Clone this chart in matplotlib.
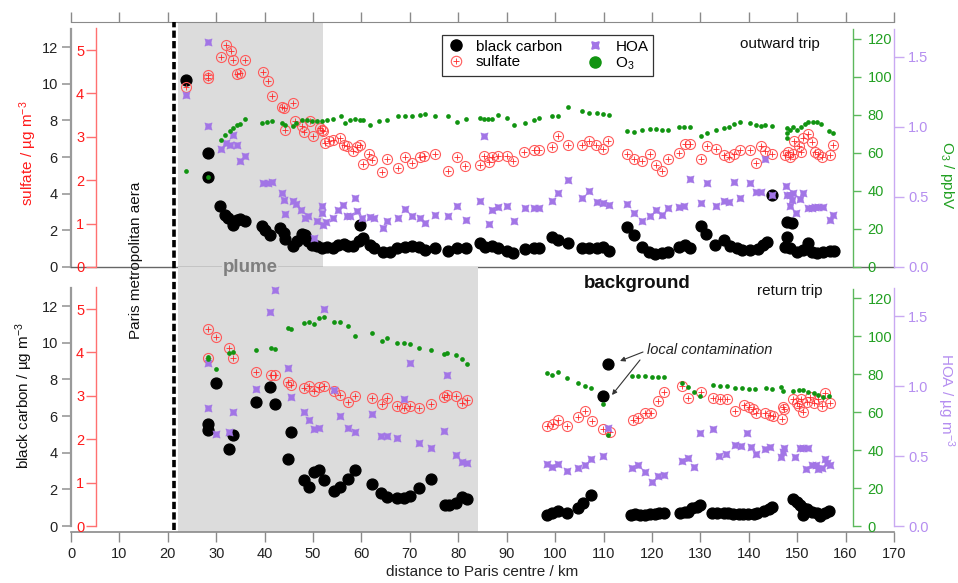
import matplotlib
matplotlib.use('Agg')
import matplotlib.pyplot as plt
from matplotlib.lines import Line2D
from matplotlib.legend_handler import HandlerTuple

plt.rcParams['font.family'] = ['Liberation Sans', 'DejaVu Sans']
plt.rcParams['mathtext.fontset'] = 'custom'
plt.rcParams['mathtext.rm'] = 'Liberation Sans'
plt.rcParams['mathtext.it'] = 'Liberation Sans:italic'
plt.rcParams['mathtext.default'] = 'regular'

# ---------------- data: outward trip (top) ----------------
out_bc_km = [23.8, 28.2, 28.2, 30.8, 31.8, 32.5, 33.5, 34.2, 35.0, 36.0, 39.4, 40.1, 41.1, 43.2, 43.9, 44.2,
             45.9, 46.6, 47.7, 48.3, 49.0, 49.7, 50.8, 51.8, 52.8, 54.2, 55.2, 56.3, 57.3, 58.3, 59.4, 60.3,
             59.7, 61.8, 62.5, 64.5, 65.9, 67.3, 69.0, 70.4, 71.8, 73.1, 75.1, 77.8, 79.7, 81.5, 84.5, 85.5,
             86.9, 88.3, 90.0, 91.4, 93.7, 95.7, 96.7, 99.3, 100.6, 102.7, 105.5, 106.9, 108.6, 109.8, 111.2,
             114.9, 116.2, 117.9, 119.3, 120.7, 122.0, 123.4, 125.5, 126.9, 127.9, 130.1, 131.2, 133.1, 134.8,
             136.2, 137.5, 138.6, 140.3, 142.0, 143.0, 143.7, 144.8, 147.9, 148.9, 147.9, 147.5, 148.6, 149.9,
             151.3, 152.3, 153.0, 154.1, 155.4, 156.8, 157.6]
out_bc = [10.2, 6.2, 4.9, 3.35, 2.85, 2.7, 2.27, 2.58, 2.63, 2.49, 2.22, 2.04, 1.76, 2.13, 1.85, 1.54,
          1.13, 1.40, 1.80, 1.76, 1.40, 1.22, 1.13, 1.04, 1.07, 1.04, 1.22, 1.25, 1.13, 1.13, 1.40, 1.58,
          2.31, 1.22, 1.04, 0.82, 0.82, 1.04, 1.11, 1.16, 1.11, 0.93, 1.02, 0.89, 1.02, 1.02, 1.29, 1.11,
          1.15, 1.02, 0.89, 0.78, 0.97, 1.02, 1.02, 1.62, 1.47, 1.33, 1.02, 1.02, 1.02, 1.11, 0.89,
          2.20, 1.75, 1.11, 0.83, 0.71, 0.78, 0.83, 1.07, 1.20, 1.02, 2.24, 1.80, 1.20, 1.47,
          1.15, 1.02, 0.93, 0.93, 0.97, 1.20, 1.38, 3.93, 2.47, 2.38, 1.65, 1.11, 1.02, 0.83,
          0.93, 1.29, 0.83, 0.75, 0.83, 0.89, 0.89]

out_so4_km = [23.8, 28.2, 28.2, 30.9, 32.0, 33.0, 33.4, 34.2, 35.0, 35.9, 39.6, 40.6, 41.5, 43.5, 44.0, 45.9,
              44.2, 46.3, 47.7, 48.1, 49.4, 49.9, 51.4, 51.8, 52.1, 52.5, 53.2, 54.2, 55.6, 56.3, 57.0, 58.2,
              59.0, 59.7, 61.6, 62.1, 60.3, 64.2, 65.2, 67.6, 69.0, 70.4, 72.1, 73.0, 75.1, 77.8, 79.7, 81.4,
              84.5, 85.4, 86.4, 87.0, 88.3, 90.0, 91.4, 93.5, 95.7, 96.7, 99.3, 100.5, 102.7, 105.5, 106.9,
              108.4, 109.8, 111.0, 114.9, 116.2, 117.9, 119.5, 120.9, 122.0, 123.4, 125.5, 126.9, 127.9, 130.1,
              131.3, 133.3, 134.8, 136.0, 137.0, 138.1, 140.3, 141.5, 142.5, 143.4, 144.8, 147.5, 148.2, 148.6,
              149.2, 149.4, 150.3, 150.8, 151.3, 152.3, 153.0, 153.7, 154.4, 155.1, 156.7, 157.4]
out_so4 = [4.14, 4.43, 4.35, 4.85, 5.11, 4.97, 4.78, 4.45, 4.47, 4.76, 4.49, 4.29, 3.93, 3.68, 3.66, 3.78,
           3.15, 3.36, 3.26, 3.11, 3.36, 3.01, 3.20, 3.16, 3.14, 2.86, 2.90, 2.93, 2.97, 2.82, 2.78, 2.68,
           2.76, 2.80, 2.60, 2.47, 2.37, 2.20, 2.50, 2.28, 2.54, 2.40, 2.54, 2.56, 2.60, 2.22, 2.53, 2.33,
           2.35, 2.56, 2.43, 2.53, 2.56, 2.56, 2.45, 2.66, 2.70, 2.70, 2.76, 3.02, 2.81, 2.81, 2.91,
           2.81, 2.73, 2.91, 2.60, 2.50, 2.45, 2.60, 2.35, 2.22, 2.50, 2.62, 2.83, 2.83, 2.48,
           2.79, 2.73, 2.58, 2.53, 2.60, 2.70, 2.70, 2.40, 2.79, 2.68, 2.60, 2.58, 2.66, 2.53,
           2.60, 2.91, 2.79, 2.66, 2.97, 3.06, 2.89, 2.66, 2.60, 2.54, 2.58, 2.81]

out_o3_km = [23.8, 28.2, 30.9, 31.8, 32.9, 33.5, 34.2, 34.9, 36.0, 39.4, 40.4, 41.5, 43.5, 44.2, 45.8, 46.5,
             47.7, 48.7, 49.7, 50.8, 51.8, 52.8, 54.1, 55.7, 56.6, 57.6, 58.7, 59.7, 60.4, 61.8, 63.7, 65.2,
             67.6, 69.0, 70.4, 72.1, 73.1, 75.1, 77.8, 79.7, 81.5, 84.5, 85.4, 86.2, 87.0, 88.2, 90.0, 91.6,
             93.7, 95.7, 96.7, 99.3, 100.6, 102.7, 105.5, 107.0, 108.6, 109.8, 111.2, 114.9, 116.2, 117.9,
             119.5, 120.9, 122.0, 123.4, 125.5, 126.7, 127.9, 130.1, 131.3, 133.3, 134.8, 136.0, 137.0, 138.1,
             140.3, 141.5, 142.5, 143.4, 144.8, 147.9, 147.9, 148.0, 148.6, 149.2, 149.9, 150.8, 151.7, 152.3,
             153.2, 154.1, 154.9, 156.5, 157.4]
out_o3 = [50.7, 47.4, 67.0, 69.6, 71.4, 73.2, 74.6, 75.3, 78.1, 75.8, 76.2, 76.7, 75.8, 74.6, 74.0, 75.8,
          77.5, 77.5, 77.0, 77.0, 77.0, 77.5, 78.1, 79.3, 75.8, 77.5, 78.1, 77.5, 77.5, 74.9, 76.7, 77.5,
          79.6, 79.5, 79.5, 80.0, 80.4, 79.5, 79.6, 76.5, 77.7, 78.2, 77.9, 77.9, 77.9, 80.0, 78.2, 74.7,
          76.0, 77.4, 78.6, 79.6, 79.6, 84.0, 82.3, 81.2, 80.9, 80.5, 80.0, 71.8, 71.2, 72.1,
          72.6, 72.5, 72.1, 72.1, 73.5, 73.8, 73.8, 68.9, 70.7, 72.1, 73.0, 73.5, 75.3, 76.1,
          75.6, 74.7, 74.2, 74.7, 74.4, 73.0, 70.4, 67.7, 72.1, 73.5, 72.1, 73.8, 75.1, 76.5,
          76.5, 76.5, 75.1, 71.8, 70.7]

out_hoa_km = [23.8, 28.2, 28.2, 30.9, 32.0, 32.9, 33.5, 34.2, 34.9, 36.0, 39.6, 40.6, 41.5, 43.5, 43.9, 44.2,
              45.9, 46.5, 47.5, 48.3, 49.0, 50.8, 51.8, 51.8, 52.1, 52.7, 50.1, 54.1, 55.2, 56.1, 57.0, 57.6,
              58.7, 59.0, 60.1, 61.8, 62.6, 64.4, 65.2, 67.6, 69.0, 70.4, 72.1, 73.1, 75.1, 77.8, 79.8, 81.5,
              84.5, 85.4, 86.4, 87.0, 88.2, 90.0, 91.5, 93.7, 95.7, 96.7, 99.3, 100.5, 102.7, 105.5, 107.0,
              108.6, 109.8, 111.2, 114.9, 116.2, 117.9, 119.5, 120.9, 122.0, 123.4, 125.5, 126.7, 127.9, 130.1,
              131.3, 133.3, 134.8, 136.0, 137.0, 138.1, 140.3, 141.5, 142.5, 143.4, 144.8, 147.7, 147.9, 148.6,
              149.2, 148.9, 148.6, 149.8, 150.6, 151.3, 152.3, 153.0, 153.7, 154.4, 155.3, 156.7, 157.4]
out_hoa = [1.23, 1.61, 1.01, 0.845, 0.886, 0.869, 0.94, 0.869, 0.755, 0.79, 0.60, 0.60, 0.607, 0.529, 0.481, 0.379,
           0.469, 0.45, 0.41, 0.35, 0.362, 0.331, 0.434, 0.386, 0.302, 0.321, 0.207, 0.35, 0.41, 0.445, 0.362, 0.362,
           0.493, 0.398, 0.35, 0.355, 0.35, 0.279, 0.326, 0.35, 0.412, 0.364, 0.352, 0.312, 0.371, 0.364, 0.436, 0.336,
           0.474, 0.936, 0.307, 0.407, 0.426, 0.436, 0.331, 0.419, 0.419, 0.419, 0.474, 0.531, 0.621, 0.491, 0.543,
           0.467, 0.455, 0.443, 0.45, 0.383, 0.331, 0.364, 0.407, 0.371, 0.419, 0.426, 0.436, 0.626, 0.459,
           0.602, 0.436, 0.474, 0.467, 0.609, 0.491, 0.602, 0.538, 0.538, 0.769, 0.514, 0.579, 0.514, 0.514,
           0.526, 0.479, 0.436, 0.383, 0.484, 0.531, 0.419, 0.419, 0.431, 0.431, 0.431, 0.336, 0.371]

# ---------------- data: return trip (bottom) ----------------
ret_bc_km = [28.2, 28.2, 30.0, 32.7, 33.5, 38.2, 41.1, 42.2, 45.5, 44.8, 48.1, 49.2, 50.1, 51.3, 52.3, 54.4,
             55.6, 57.2, 58.7, 62.2, 64.0, 65.2, 67.3, 68.7, 70.0, 71.9, 74.3, 77.3, 78.0, 79.5, 80.7, 81.9,
             98.3, 99.3, 100.6, 102.4, 104.7, 105.8, 107.4, 109.8, 111.0,
             115.6, 116.5, 117.5, 118.6, 119.6, 120.6, 121.5, 122.4, 125.8, 126.9, 127.5, 128.3, 129.3, 130.0,
             132.4, 133.4, 134.8, 135.8, 136.8, 137.9, 138.9, 139.9, 141.0, 141.7, 143.2, 144.1, 144.8,
             149.2, 149.9, 150.6, 151.3, 151.2, 152.0, 153.0, 154.0, 154.8, 155.8, 156.5]
ret_bc = [5.56, 5.24, 7.82, 4.18, 4.96, 6.78, 7.60, 6.66, 5.15, 3.64, 2.51, 2.11, 2.96, 3.06, 2.51, 1.93,
          2.14, 2.55, 3.06, 2.29, 1.82, 1.57, 1.51, 1.51, 1.64, 2.06, 2.55, 1.15, 1.15, 1.24, 1.57, 1.46,
          0.60, 0.69, 0.83, 0.69, 0.96, 1.24, 1.69, 7.11, 8.82,
          0.62, 0.65, 0.62, 0.62, 0.65, 0.65, 0.69, 0.72, 0.69, 0.78, 0.78, 0.96, 1.05, 1.15,
          0.73, 0.73, 0.69, 0.69, 0.65, 0.65, 0.65, 0.65, 0.65, 0.69, 0.83, 0.91, 1.02,
          1.45, 1.33, 1.15, 0.96, 0.60, 0.91, 0.78, 0.69, 0.55, 0.69, 0.83]

ret_so4_km = [28.2, 28.2, 30.0, 32.7, 33.5, 38.2, 41.3, 42.2, 44.8, 45.5, 48.1, 49.2, 50.1, 51.3, 52.3, 54.4,
              55.6, 57.2, 58.7, 62.2, 64.2, 65.2, 67.3, 68.7, 70.0, 71.9, 74.3, 77.1, 77.6, 79.5, 80.7, 81.8,
              98.3, 99.5, 100.6, 102.4, 104.8, 106.1, 107.6, 109.8, 111.4, 116.0, 117.2, 118.6, 119.8, 121.3,
              122.4, 126.2, 127.4, 130.1, 132.6, 134.0, 135.5, 137.2, 139.1, 140.0, 140.9, 141.5, 143.4, 144.3,
              145.0, 146.8, 147.0, 147.3, 149.2, 149.9, 150.3, 150.8, 151.3, 152.0, 152.7, 153.4, 154.2, 155.1,
              155.8, 156.7]
ret_so4 = [4.55, 3.86, 4.35, 4.09, 3.86, 3.54, 3.48, 3.49, 3.31, 3.25, 3.19, 3.23, 3.11, 3.20, 3.23, 3.11,
           3.02, 2.86, 3.00, 2.94, 2.81, 2.94, 2.76, 2.73, 2.76, 2.73, 2.81, 2.98, 3.02, 3.00, 2.83, 2.90,
           2.30, 2.35, 2.44, 2.30, 2.52, 2.65, 2.43, 2.23, 2.17, 2.44, 2.48, 2.60, 2.61, 2.89,
           3.09, 3.23, 2.96, 3.09, 2.96, 2.92, 2.92, 2.66, 2.79, 2.75, 2.69, 2.61, 2.60, 2.56,
           2.53, 2.46, 2.75, 2.69, 2.92, 2.83, 2.76, 2.92, 2.63, 2.86, 2.98, 2.84, 2.92, 2.76,
           3.07, 2.83]

ret_o3_km = [28.2, 28.2, 30.0, 32.7, 33.5, 38.2, 41.3, 42.2, 44.8, 45.5, 48.1, 49.2, 50.1, 51.3, 52.3, 54.4,
             55.6, 57.2, 58.7, 62.2, 64.2, 65.2, 67.3, 68.7, 70.0, 71.9, 74.3, 77.1, 77.6, 79.5, 80.7, 81.9,
             98.3, 99.3, 100.5, 102.4, 104.8, 106.1, 107.4, 109.8, 111.0, 115.8, 117.2, 118.6, 120.0, 121.3,
             122.4, 126.2, 127.5, 128.7, 130.0, 132.6, 134.0, 135.5, 137.2, 138.6, 140.0, 141.3, 143.6, 144.8,
             146.6, 147.0, 149.2, 150.3, 151.3, 152.3, 153.4, 154.4, 155.4, 156.5]
ret_o3 = [87.7, 88.8, 82.5, 91.2, 91.8, 92.6, 93.5, 93.0, 104.0, 103.5, 107.0, 107.5, 106.3, 109.3, 109.8, 107.5,
          107.5, 105.3, 100.0, 101.4, 97.5, 98.8, 96.5, 96.1, 95.8, 93.5, 92.6, 90.5, 90.9, 90.0, 87.7, 85.1,
          80.7, 79.5, 81.2, 77.7, 75.1, 73.7, 72.5, 64.2, 47.9, 78.9, 78.9, 78.9, 78.6, 78.3,
          78.6, 75.1, 73.3, 70.7, 68.4, 74.2, 73.7, 73.7, 72.5, 72.5, 72.3, 72.3, 72.5, 72.1,
          73.0, 71.2, 71.2, 71.6, 71.6, 70.7, 70.2, 68.9, 67.7, 68.4]

ret_hoa_km = [28.2, 28.2, 30.0, 32.7, 33.5, 38.2, 41.1, 42.2, 44.8, 45.5, 48.1, 49.2, 50.1, 51.3, 52.3, 54.4,
              55.6, 57.2, 58.7, 62.2, 64.0, 65.2, 67.3, 68.7, 70.0, 71.9, 74.3, 77.1, 77.6, 79.5, 80.7, 81.9,
              98.3, 99.3, 100.5, 102.4, 104.8, 106.1, 107.4, 109.8, 111.0, 115.8, 117.2, 118.6, 120.0, 121.3,
              122.4, 126.2, 127.4, 128.7, 130.0, 132.6, 133.9, 135.2, 137.2, 138.4, 139.6, 140.4, 141.5, 143.4,
              144.4, 146.6, 147.0, 147.3, 149.6, 150.6, 151.3, 152.3, 151.9, 153.0, 153.9, 154.4, 155.1, 155.8,
              156.1, 156.7]
ret_hoa = [1.167, 0.845, 0.657, 0.674, 0.812, 0.976, 1.526, 1.686, 1.126, 0.924, 0.817, 0.757, 0.690, 0.698, 1.548, 0.971,
           0.786, 0.698, 0.674, 0.798, 0.643, 0.643, 0.626, 0.905, 1.167, 0.595, 0.555, 0.681, 1.079, 0.507, 0.459, 0.448,
           0.443, 0.424, 0.443, 0.395, 0.412, 0.436, 0.476, 0.500, 0.698, 0.412, 0.436, 0.388, 0.317, 0.357,
           0.364, 0.467, 0.483, 0.419, 0.662, 0.690, 0.500, 0.512, 0.579, 0.574, 0.667, 0.567, 0.514, 0.548,
           0.567, 0.495, 0.531, 0.555, 0.491, 0.555, 0.555, 0.555, 0.405, 0.436, 0.436, 0.405, 0.412, 0.476,
           0.448, 0.436]

x_ticks = list(range(0, 171, 10))
bc_ticks = [0, 2, 4, 6, 8, 10, 12]
so4_ticks = [0, 1, 2, 3, 4, 5]
o3_ticks = [0, 20, 40, 60, 80, 100, 120]
hoa_ticks = [0.0, 0.5, 1.0, 1.5]
hoa_labels = ['0.0', '0.5', '1.0', '1.5']

# ---------------- styles ----------------
W, H = 958, 583
C_SO4_LAB = '#ff1a1a'
C_SO4_SP = '#ff7070'
C_SO4_M = '#ff5a5a'
C_O3_LAB = '#22a022'
C_O3_SP = '#5cb85c'
C_O3_M = '#119411'
C_HOA_LAB = '#b58ef0'
C_HOA_SP = '#c9a9f2'
C_HOA_M = '#a275e6'
C_SHADE = '#dcdcdc'
C_BC_SP = '#9a9a9a'
HOA_MARK = (4, 1, 45)

fig = plt.figure(figsize=(W / 100, H / 100), dpi=100)

PX_BC, PX_SO4, PX_O3, PX_HOA = 18.33, 43.4, 1.9, 140.0
L_PX, R_PX = 71, 894


def lims(zero_px, bot_px, top_px, scale):
    return (-(bot_px - zero_px) / scale, (zero_px - top_px) / scale)


def make_panel(bot_px, top_px, zero_px, shade_end, top_panel):
    ax = fig.add_axes([L_PX / W, 1 - bot_px / H, (R_PX - L_PX) / W, (bot_px - top_px) / H])
    ax.set_xlim(0, 170)
    ax.set_ylim(*lims(zero_px, bot_px, top_px, PX_BC))
    ax.patch.set_alpha(0)
    ax.axvspan(22, shade_end, color=C_SHADE, zorder=0, lw=0)
    ax.spines['right'].set_visible(False)
    ax.spines['left'].set_color(C_BC_SP)
    ax.spines['left'].set_linewidth(1.6)
    ax.spines['left'].set_bounds(0, 13)
    ax.set_yticks(bc_ticks)
    ax.tick_params(axis='y', colors=C_BC_SP, labelcolor='#222222', length=6.5, width=1.2, pad=3, labelsize=10.5)
    ax.set_xticks(x_ticks)
    if top_panel:
        ax.spines['top'].set_color('#8a8a8a')
        ax.spines['bottom'].set_color('#666666')
        ax.spines['bottom'].set_linewidth(1.0)
        ax.xaxis.set_ticks_position('top')
        ax.tick_params(axis='x', direction='out', length=7, width=1, colors='#8a8a8a',
                       labeltop=False, labelbottom=False)
    else:
        ax.spines['top'].set_visible(False)
        ax.spines['bottom'].set_color('#8a8a8a')
        ax.spines['bottom'].set_linewidth(1.2)
        ax.tick_params(axis='x', direction='out', length=7, width=1, colors='#8a8a8a',
                       labelcolor='#222222', labelsize=10.5, pad=4)

    def twin(side, pos, spcol, labcol, bounds, ticks, scale, length, pad, labels=None):
        t = ax.twinx()
        t.set_ylim(*lims(zero_px, bot_px, top_px, scale))
        for s in t.spines.values():
            s.set_visible(False)
        sp = t.spines[side]
        sp.set_visible(True)
        sp.set_position(('axes', pos))
        sp.set_color(spcol)
        sp.set_linewidth(1.0)
        sp.set_bounds(*bounds)
        t.yaxis.set_ticks_position(side)
        t.set_yticks(ticks)
        if labels is not None:
            t.set_yticklabels(labels)
        t.tick_params(axis='y', colors=spcol, labelcolor=labcol, length=length, width=1,
                      pad=pad, labelsize=10.5)
        return t

    t_so4 = twin('left', (96 - L_PX) / (R_PX - L_PX), C_SO4_SP, C_SO4_LAB, (0, 5.5), so4_ticks,
                 PX_SO4, 7, 1.5)
    t_hoa = twin('right', 1.0, C_HOA_SP, C_HOA_LAB, (0, 1.7), hoa_ticks, PX_HOA, 7, 3, hoa_labels)
    t_o3 = twin('right', (853 - L_PX) / (R_PX - L_PX), C_O3_SP, C_O3_LAB, (0, 125), o3_ticks,
                PX_O3, 5.5, 5)
    return ax, t_so4, t_hoa, t_o3


def draw(ax, t_so4, t_hoa, t_o3, bkm, bc, skm, so4, okm, o3, hkm, hoa):
    ax.plot(bkm, bc, 'o', color='black', ms=7.8, mec='black', zorder=3)
    t_so4.plot(skm, so4, 'o', mfc='none', mec=C_SO4_M, ms=7.2, mew=0.8)
    t_so4.plot(skm, so4, '+', color='#ff2a2a', ms=4.2, mew=0.6)
    t_hoa.plot(hkm, hoa, ls='none', marker=HOA_MARK, color=C_HOA_M, ms=7.5, mew=0.3)
    t_o3.plot(okm, o3, 'o', color=C_O3_M, ms=3.4, mew=0)


# top panel (outward)
axt, ts, th, to = make_panel(267, 22, 267, 52, True)
draw(axt, ts, th, to, out_bc_km, out_bc, out_so4_km, out_so4, out_o3_km, out_o3, out_hoa_km, out_hoa)

# bottom panel (return)
axb, bs, bh, bo = make_panel(532, 267, 526, 84, False)
draw(axb, bs, bh, bo, ret_bc_km, ret_bc, ret_so4_km, ret_so4, ret_o3_km, ret_o3, ret_hoa_km, ret_hoa)
axb.set_xlabel('distance to Paris centre / km', fontsize=11, labelpad=3, color='#222222')

# dashed line at Paris metropolitan border
xline = (L_PX + 21.2 * (R_PX - L_PX) / 170) / W
fig.add_artist(Line2D([xline, xline], [1 - 530 / H, 1 - 22 / H], transform=fig.transFigure,
                      color='black', lw=2.6, dashes=(2.0, 0.9), zorder=5))

# texts
fig.text(136 / W, 1 - 260 / H, 'Paris metropolitan aera', rotation=90, ha='center', va='center',
         fontsize=11, color='#111111', zorder=6)
fig.text(250 / W, 1 - 268 / H, 'plume', ha='center', va='center', fontsize=13.5, fontweight='bold',
         color='#7f7f7f', zorder=6, bbox=dict(facecolor=C_SHADE, edgecolor='none', pad=0.5))
fig.text(637 / W, 1 - 283 / H, 'background', ha='center', va='center', fontsize=13.5,
         fontweight='bold', color='#111111', zorder=6)
fig.text(780 / W, 1 - 44 / H, 'outward trip', ha='center', va='center', fontsize=11, color='#111111')
fig.text(790 / W, 1 - 291 / H, 'return trip', ha='center', va='center', fontsize=11, color='#111111')
fig.text(647 / W, 1 - 350 / H, 'local contamination', ha='left', va='center', fontsize=10.5,
         style='italic', color='#222222')

# arrows (in bottom panel data units)
def px2b(px, py):
    return ((px - L_PX) * 170 / (R_PX - L_PX), (526 - py) / PX_BC)

for tail, head in [((643, 352), (620, 361)), ((640, 360), (612, 395))]:
    axb.annotate('', xy=px2b(*head), xytext=px2b(*tail),
                 arrowprops=dict(arrowstyle='-|>', color='#333333', lw=0.8, mutation_scale=7,
                                 shrinkA=0, shrinkB=0))

# axis titles
fig.text(28 / W, 1 - 153 / H, 'sulfate / µg m$^{-3}$', rotation=90, ha='center', va='center',
         fontsize=11, color=C_SO4_LAB)
fig.text(24 / W, 1 - 395 / H, 'black carbon / µg m$^{-3}$', rotation=90, ha='center', va='center',
         fontsize=11, color='#111111')
fig.text(947 / W, 1 - 175 / H, 'O$_3$ / ppbV', rotation=270, ha='center', va='center',
         fontsize=11, color=C_O3_LAB)
fig.text(946 / W, 1 - 400 / H, 'HOA / µg m$^{-3}$', rotation=270, ha='center', va='center',
         fontsize=11, color=C_HOA_LAB)

# legend
h_bc = Line2D([], [], ls='none', marker='o', color='black', ms=8)
h_s1 = Line2D([], [], ls='none', marker='o', mfc='none', mec=C_SO4_M, ms=7.5, mew=0.8)
h_s2 = Line2D([], [], ls='none', marker='+', color='#ff2a2a', ms=4.5, mew=0.6)
h_hoa = Line2D([], [], ls='none', marker=HOA_MARK, color=C_HOA_M, ms=7.5)
h_o3 = Line2D([], [], ls='none', marker='o', color=C_O3_M, ms=8)
leg = fig.legend([h_bc, (h_s1, h_s2), h_hoa, h_o3], ['black carbon', 'sulfate', 'HOA', 'O$_3$'],
                 handler_map={tuple: HandlerTuple(ndivide=1)}, ncol=2, loc='upper left',
                 bbox_to_anchor=(442 / W, 1 - 35 / H), borderaxespad=0, fontsize=11,
                 frameon=True, fancybox=False, edgecolor='#333333', framealpha=1,
                 handlelength=1.2, handletextpad=0.7, borderpad=0.3, labelspacing=0.1,
                 columnspacing=1.6)
leg.get_frame().set_linewidth(0.9)

fig.savefig('out.png', dpi=100)
